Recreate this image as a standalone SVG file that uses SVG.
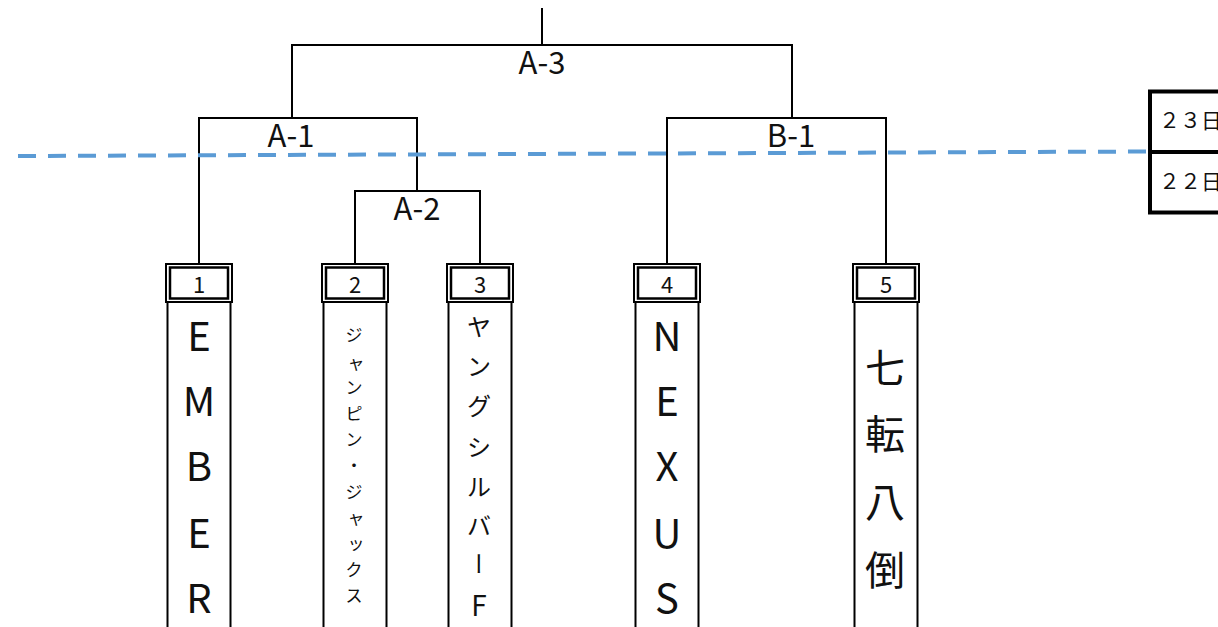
<svg xmlns="http://www.w3.org/2000/svg" width="1218" height="627" viewBox="0 0 1218 627">
<defs>
<style>
.ln{fill:none;stroke:#000;stroke-width:2}
.t{font-family:"Noto Sans CJK JP","Noto Sans",sans-serif;fill:#111}
.lbl{font-size:31px;text-anchor:middle}
.num{font-size:22px;text-anchor:middle;dominant-baseline:central}
.v{text-anchor:middle;dominant-baseline:central}
.big{font-size:40px}
.ob{fill:#fff;stroke:#000;stroke-width:2}
.ib{fill:none;stroke:#000;stroke-width:2.5}
.col{fill:none;stroke:#000;stroke-width:2}
</style>
</defs>
<rect width="1218" height="627" fill="#fff"/>
<g id="connectors">
<path class="ln" d="M542 8V45M292 118V45H792V118"/>
<path class="ln" d="M199 264V118H417V191"/>
<path class="ln" d="M355 264V191H480V264"/>
<path class="ln" d="M667 264V118H886V264"/>
</g>
<g id="match-labels">
<text class="t lbl" x="542" y="74">A-3</text>
<text class="t lbl" x="291" y="147">A-1</text>
<text class="t lbl" x="417" y="220">A-2</text>
<text class="t lbl" x="791" y="147">B-1</text>
</g>
<line id="day-divider" x1="18" y1="156" x2="1150" y2="151.5" stroke="#5B9BD5" stroke-width="4" stroke-dasharray="18 12"/>
<g id="day-box">
<rect x="1150" y="91.5" width="100" height="121" fill="none" stroke="#000" stroke-width="4"/>
<line x1="1150" y1="152" x2="1218" y2="152" stroke="#000" stroke-width="4"/>
<text class="t" x="1159" y="128" font-size="21">２３日</text>
<text class="t" x="1159" y="189" font-size="21">２２日</text>
</g>
<g id="team1">
<line class="col" x1="167.5" y1="302" x2="167.5" y2="627"/><line class="col" x1="230.5" y1="302" x2="230.5" y2="627"/>
<rect class="ob" x="166" y="264" width="66" height="38"/><rect class="ib" x="170" y="267.5" width="58" height="31"/>
<text class="t num" x="199" y="283">1</text>
<g class="t v big">
<text x="199" y="334">E</text><text x="199" y="399">M</text><text x="199" y="464">B</text><text x="199" y="531">E</text><text x="199" y="596">R</text>
</g>
</g>
<g id="team2">
<line class="col" x1="323.5" y1="302" x2="323.5" y2="627"/><line class="col" x1="386.5" y1="302" x2="386.5" y2="627"/>
<rect class="ob" x="322" y="264" width="66" height="38"/><rect class="ib" x="326" y="267.5" width="58" height="31"/>
<text class="t num" x="355" y="283">2</text>
<g class="t v" font-size="17">
<text x="354" y="333">ジ</text><text x="356" y="361">ャ</text><text x="354" y="386">ン</text><text x="354" y="412">ピ</text><text x="354" y="438">ン</text><text x="354" y="464">・</text><text x="354" y="490">ジ</text><text x="356" y="516">ャ</text><text x="356" y="542">ッ</text><text x="354" y="568">ク</text><text x="354" y="594">ス</text>
</g>
</g>
<g id="team3">
<line class="col" x1="448.5" y1="302" x2="448.5" y2="627"/><line class="col" x1="511.5" y1="302" x2="511.5" y2="627"/>
<rect class="ob" x="447" y="264" width="66" height="38"/><rect class="ib" x="451" y="267.5" width="58" height="31"/>
<text class="t num" x="480" y="283">3</text>
<g class="t v" font-size="24">
<text x="479" y="325">ヤ</text><text x="479" y="364">ン</text><text x="479" y="404">グ</text><text x="479" y="445">シ</text><text x="479" y="485">ル</text><text x="479" y="524">バ</text><text x="479" y="564" writing-mode="vertical-rl" style="text-orientation:upright">ー</text><text x="479" y="604" font-size="28">F</text>
</g>
</g>
<g id="team4">
<line class="col" x1="635.5" y1="302" x2="635.5" y2="627"/><line class="col" x1="698.5" y1="302" x2="698.5" y2="627"/>
<rect class="ob" x="634" y="264" width="66" height="38"/><rect class="ib" x="638" y="267.5" width="58" height="31"/>
<text class="t num" x="667" y="283">4</text>
<g class="t v big">
<text x="667" y="334">N</text><text x="667" y="399">E</text><text x="667" y="464">X</text><text x="667" y="531">U</text><text x="667" y="596">S</text>
</g>
</g>
<g id="team5">
<line class="col" x1="854.5" y1="302" x2="854.5" y2="627"/><line class="col" x1="917.5" y1="302" x2="917.5" y2="627"/>
<rect class="ob" x="853" y="264" width="66" height="38"/><rect class="ib" x="857" y="267.5" width="58" height="31"/>
<text class="t num" x="886" y="283">5</text>
<g class="t v big">
<text x="885" y="366">七</text><text x="885" y="432">転</text><text x="885" y="500">八</text><text x="885" y="568">倒</text>
</g>
</g>
</svg>
